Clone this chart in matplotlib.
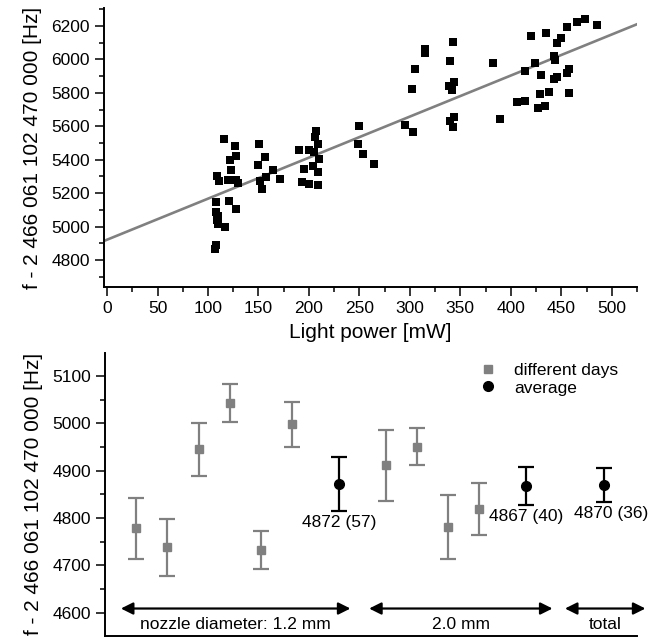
import matplotlib
matplotlib.use("Agg")
import matplotlib.pyplot as plt
from matplotlib.lines import Line2D
from matplotlib.ticker import MultipleLocator
import numpy as np

plt.rcParams['font.family'] = ['Liberation Sans', 'DejaVu Sans']

# ---------------- data: top panel (frequency vs light power) ----------------
power_mw = [116, 127, 151, 128, 122, 156, 123, 150, 109, 164,
            111, 120, 128, 130, 152, 157, 171, 154, 108, 121,
            128, 108, 110, 109, 110, 117, 108, 107,
            190, 207, 206, 209, 200, 205, 210, 204, 195, 209,
            193, 200, 209, 250, 249, 254, 264,
            295, 303, 315, 315, 305, 302, 343, 340, 344, 339,
            342, 344, 340, 343,
            382, 389, 420, 435, 456, 466, 473, 485, 450, 446,
            443, 444, 424, 414, 430, 443, 446, 456, 458, 429,
            438, 458, 406, 414, 427, 434]
freq_hz = [5522, 5484, 5492, 5424, 5398, 5414, 5338, 5368, 5304, 5338,
           5273, 5279, 5279, 5263, 5273, 5295, 5283, 5223, 5145, 5151,
           5105, 5089, 5063, 5039, 5014, 4996, 4890, 4864,
           5460, 5574, 5538, 5492, 5458, 5444, 5402, 5362, 5343, 5325,
           5267, 5253, 5251, 5602, 5494, 5432, 5372,
           5608, 5568, 6061, 6037, 5941, 5823, 6106, 5991, 5867, 5843,
           5817, 5657, 5632, 5594,
           5980, 5642, 6138, 6156, 6196, 6222, 6242, 6206, 6126, 6096,
           6022, 5997, 5977, 5933, 5907, 5885, 5897, 5917, 5941, 5793,
           5803, 5797, 5747, 5751, 5708, 5723]
fit_intercept = 4921.0   # Hz at 0 mW
fit_slope = 2.457        # Hz per mW

# ---------------- data: bottom panel ----------------
day_pos = [1, 2, 3, 4, 5, 6, 9, 10, 11, 12]
day_freq = [4778, 4738, 4945, 5042, 4732, 4998, 4911, 4951, 4781, 4819]
day_err = [65, 60, 56, 40, 40, 47, 75, 38, 68, 54]
avg_pos = [7.5, 13.5, 16]
avg_freq = [4872, 4867, 4870]
avg_err = [57, 40, 36]
group_labels = ["nozzle diameter: 1.2 mm", "2.0 mm", "total"]
legend_labels = ["different days", "average"]

W, H = 658, 638
fig = plt.figure(figsize=(W / 100, H / 100), dpi=100)

FS = 12.5
LFS = 15
GRAY = '#808080'

# ---------------- top panel ----------------
ax1 = fig.add_axes([104 / W, 1 - 287 / H, (637 - 104) / W, (287 - 8) / H])
ax1.scatter(power_mw, freq_hz, marker='s', s=40, c='black', linewidths=0, zorder=3)
xl = np.array([-3, 525])
ax1.plot(xl, fit_intercept + fit_slope * xl, color=GRAY, lw=1.9, zorder=2)
ax1.set_xlim(-3, 525)
ax1.set_ylim(4638, 6308)
ax1.xaxis.set_major_locator(MultipleLocator(50))
ax1.xaxis.set_minor_locator(MultipleLocator(25))
ax1.yaxis.set_major_locator(MultipleLocator(200))
ax1.yaxis.set_minor_locator(MultipleLocator(100))
for s in ['top', 'right']:
    ax1.spines[s].set_visible(False)
for s in ['left', 'bottom']:
    ax1.spines[s].set_linewidth(1.4)
ax1.tick_params(which='major', length=6.5, width=1.1, labelsize=FS, direction='out')
ax1.tick_params(which='minor', length=3.6, width=1.1, direction='out')
ax1.set_xlabel('Light power [mW]', fontsize=LFS, labelpad=5)
ax1.set_ylabel('f - 2 466 061 102 470 000 [Hz]', fontsize=LFS, labelpad=7)

# ---------------- bottom panel ----------------
ax2 = fig.add_axes([105 / W, 1 - 636 / H, (637 - 105) / W, (636 - 352.7) / H])
ax2.errorbar(day_pos, day_freq, yerr=day_err, fmt='s', color=GRAY, ms=6,
             ecolor=GRAY, elinewidth=1.6, capsize=6, capthick=1.6, zorder=3)
ax2.errorbar(avg_pos, avg_freq, yerr=avg_err, fmt='o', color='black', ms=7,
             ecolor='black', elinewidth=1.6, capsize=6, capthick=1.6, zorder=3)
label_dx = [0, 0, 5]
for x, y, e, dx in zip(avg_pos, avg_freq, avg_err, label_dx):
    ax2.annotate(f'{y} ({e})', xy=(x, y - e), xytext=(dx, -3),
                 textcoords='offset points', ha='center', va='top', fontsize=FS)
ax2.set_xlim(0.0, 17.06)
ax2.set_ylim(4551, 5149)
ax2.yaxis.set_major_locator(MultipleLocator(100))
ax2.yaxis.set_minor_locator(MultipleLocator(50))
ax2.set_xticks([])
for s in ['top', 'right']:
    ax2.spines[s].set_visible(False)
for s in ['left', 'bottom']:
    ax2.spines[s].set_linewidth(1.4)
ax2.tick_params(which='major', length=6.5, width=1.1, labelsize=FS, direction='out')
ax2.tick_params(which='minor', length=3.6, width=1.1, direction='out')
ax2.set_ylabel('f - 2 466 061 102 470 000 [Hz]', fontsize=LFS, labelpad=7)

# group arrows
spans = [(0.51, 7.87), (8.47, 14.35), (14.75, 17.33)]
arrow_y = 4609
text_y = 4576
for (a, b), lab in zip(spans, group_labels):
    ax2.annotate('', xy=(a, arrow_y), xytext=(b, arrow_y),
                 arrowprops=dict(arrowstyle='<|-|>', color='black', lw=1.6,
                                 mutation_scale=18, shrinkA=0, shrinkB=0),
                 annotation_clip=False)
    ax2.text((a + b) / 2, text_y, lab, ha='center', va='center', fontsize=FS)

handles = [Line2D([], [], marker='s', color=GRAY, ls='none', ms=6),
           Line2D([], [], marker='o', color='black', ls='none', ms=7)]
ax2.legend(handles, legend_labels, loc='upper left', bbox_to_anchor=(0.704, 0.965),
           frameon=False, fontsize=FS, handlelength=1.0, handletextpad=1.0,
           labelspacing=0.15, borderpad=0, borderaxespad=0)

fig.savefig('out.png', dpi=100)
